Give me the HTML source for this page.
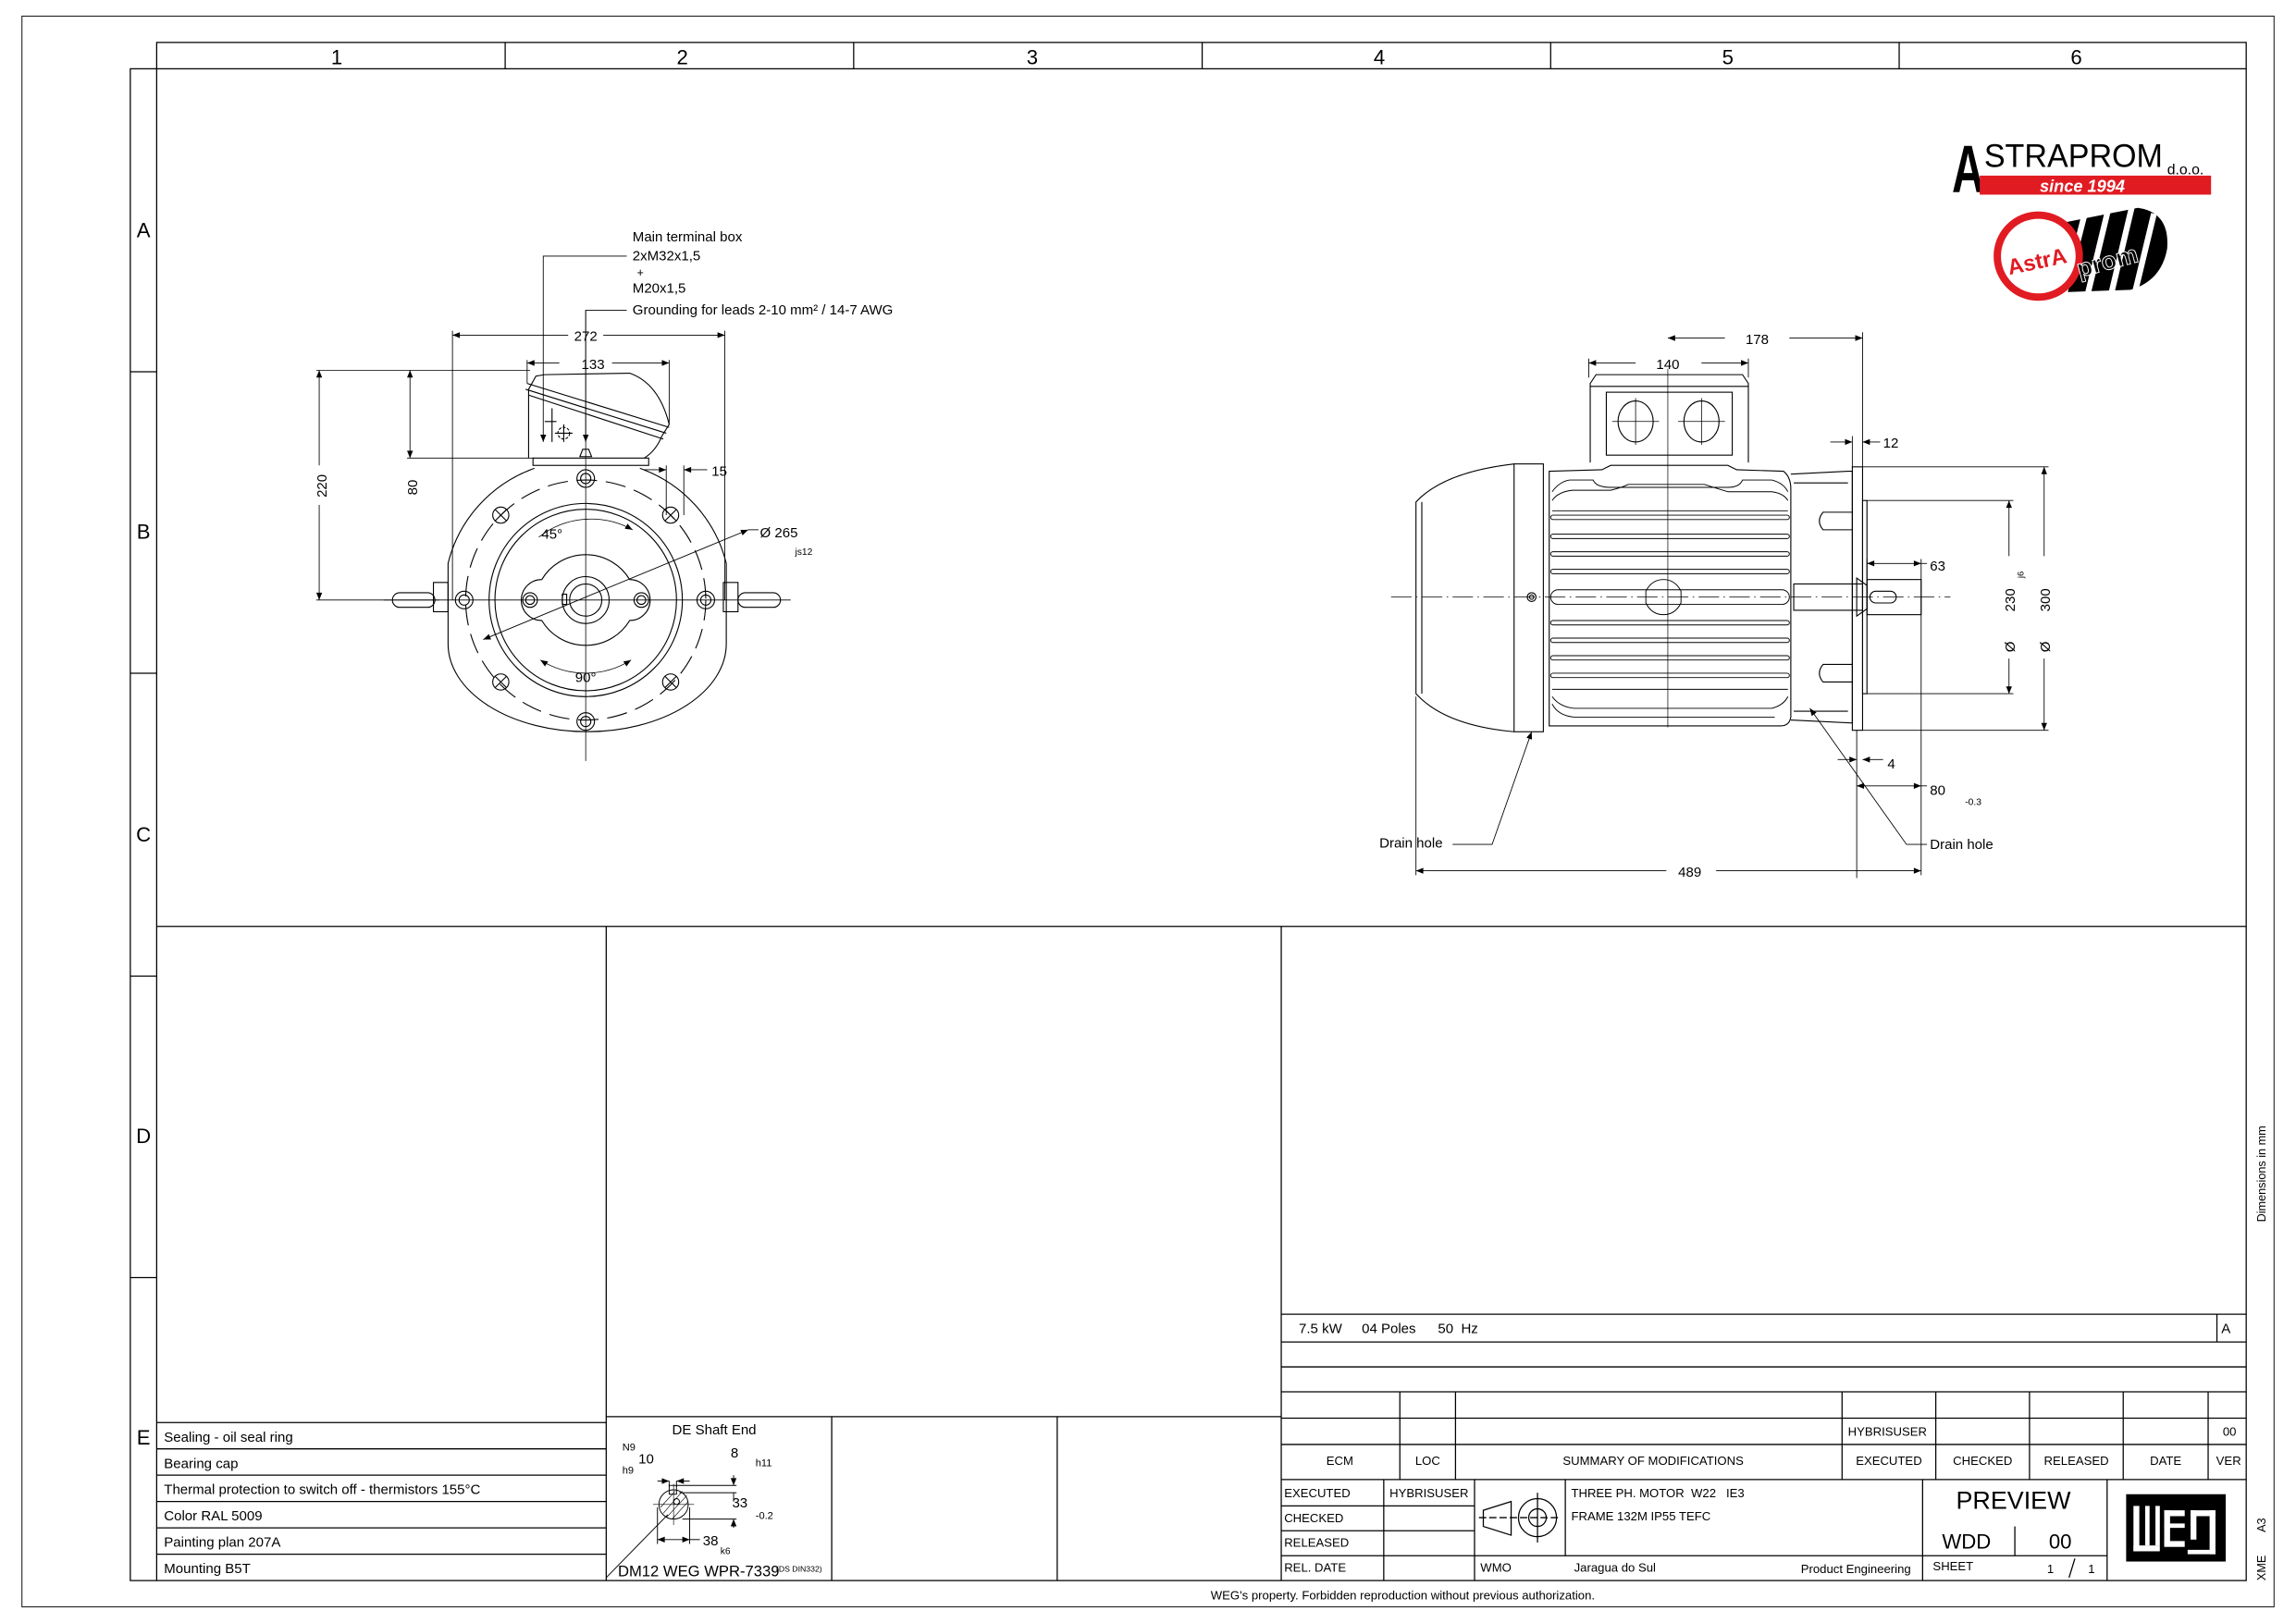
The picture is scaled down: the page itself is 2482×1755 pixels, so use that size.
<!DOCTYPE html>
<html><head><meta charset="utf-8"><style>
html,body{margin:0;padding:0;background:#fff;}
svg{display:block;}
text{font-family:"Liberation Sans",Arial,sans-serif;fill:#000;white-space:pre;}
</style></head><body>
<svg width="2482" height="1755" viewBox="0 0 1568 1109" preserveAspectRatio="none" xmlns="http://www.w3.org/2000/svg" xml:space="preserve">
<defs>
<marker id="a" viewBox="0 0 10 10" refX="10" refY="5" markerWidth="7" markerHeight="5" orient="auto-start-reverse" markerUnits="userSpaceOnUse"><path d="M0,1 L10,5 L0,9 z" fill="#000"/></marker>
</defs>
<rect width="1568" height="1109" fill="#fff"/>
<g fill="none" stroke="#000" stroke-width="0.8">
<rect x="15" y="11" width="1538" height="1087" stroke-width="0.6"/>
<rect x="107" y="29" width="1427" height="1051"/>
<line x1="107" y1="47" x2="1534" y2="47"/>
<line x1="345" y1="29" x2="345" y2="47"/><line x1="583" y1="29" x2="583" y2="47"/><line x1="821" y1="29" x2="821" y2="47"/><line x1="1059" y1="29" x2="1059" y2="47"/><line x1="1297" y1="29" x2="1297" y2="47"/>
<polyline points="107,47 89,47 89,1080 107,1080"/>
<line x1="89" y1="254" x2="107" y2="254"/><line x1="89" y1="460" x2="107" y2="460"/><line x1="89" y1="667" x2="107" y2="667"/><line x1="89" y1="873" x2="107" y2="873"/>
<line x1="107" y1="633" x2="1534" y2="633"/>
<line x1="414" y1="633" x2="414" y2="1080"/><line x1="875" y1="633" x2="875" y2="1080"/>
<line x1="107" y1="972" x2="414" y2="972"/><line x1="107" y1="990" x2="414" y2="990"/><line x1="107" y1="1008" x2="414" y2="1008"/><line x1="107" y1="1026" x2="414" y2="1026"/><line x1="107" y1="1044" x2="414" y2="1044"/><line x1="107" y1="1062" x2="414" y2="1062"/>
<line x1="414" y1="968" x2="875" y2="968"/><line x1="568" y1="968" x2="568" y2="1080"/><line x1="722" y1="968" x2="722" y2="1080"/>
<line x1="875" y1="898" x2="1534" y2="898"/><line x1="1514" y1="898" x2="1514" y2="917"/>
<line x1="875" y1="917" x2="1534" y2="917"/><line x1="875" y1="934" x2="1534" y2="934"/><line x1="875" y1="951" x2="1534" y2="951"/><line x1="875" y1="969" x2="1534" y2="969"/><line x1="875" y1="987" x2="1534" y2="987"/><line x1="875" y1="1011" x2="1534" y2="1011"/>
<line x1="956" y1="951" x2="956" y2="1011"/><line x1="994" y1="951" x2="994" y2="1011"/><line x1="1258" y1="951" x2="1258" y2="1011"/><line x1="1322" y1="951" x2="1322" y2="1011"/><line x1="1386" y1="951" x2="1386" y2="1011"/><line x1="1450" y1="951" x2="1450" y2="1011"/><line x1="1508" y1="951" x2="1508" y2="1011"/>
<line x1="945" y1="1011" x2="945" y2="1080"/><line x1="1007" y1="1011" x2="1007" y2="1080"/><line x1="1069" y1="1011" x2="1069" y2="1063"/><line x1="1313" y1="1011" x2="1313" y2="1080"/><line x1="1439" y1="1011" x2="1439" y2="1080"/><line x1="1376" y1="1043" x2="1376" y2="1063"/>
<line x1="875" y1="1029" x2="1007" y2="1029"/><line x1="875" y1="1046" x2="1007" y2="1046"/><line x1="875" y1="1063" x2="1439" y2="1063"/>
<path d="M1032,1026 L1013,1032 L1013,1043 L1032,1049 Z"/><circle cx="1050" cy="1037" r="13"/><circle cx="1050" cy="1037" r="6"/>
<line x1="1010" y1="1037" x2="1066" y2="1037" stroke-dasharray="5,2"/><line x1="1050" y1="1020" x2="1050" y2="1054"/>
</g>
<rect x="1452" y="1021" width="68" height="46" fill="#000"/>
<g fill="#fff">
<rect x="1457" y="1029" width="4" height="31"/><rect x="1465" y="1029" width="3" height="27"/><rect x="1472" y="1029" width="3" height="27"/><rect x="1457" y="1056" width="18" height="4"/>
<rect x="1478" y="1032" width="14" height="4"/><rect x="1478" y="1041" width="14" height="3"/><rect x="1478" y="1053" width="14" height="4"/><rect x="1478" y="1032" width="4" height="24"/>
<rect x="1496" y="1032" width="4" height="20"/><rect x="1496" y="1032" width="17" height="4"/><rect x="1509" y="1032" width="4" height="30"/><rect x="1494" y="1059" width="19" height="3"/>
</g>

<g font-size="14" text-anchor="middle" font-weight="300">
<text x="230" y="44">1</text><text x="466" y="44">2</text><text x="705" y="44">3</text><text x="942" y="44">4</text><text x="1180" y="44">5</text><text x="1418" y="44">6</text>
<text x="98" y="162">A</text><text x="98" y="368">B</text><text x="98" y="575">C</text><text x="98" y="781">D</text><text x="98" y="987">E</text>
</g>
<g font-size="9.5">
<text x="112" y="985">Sealing - oil seal ring</text><text x="112" y="1003">Bearing cap</text><text x="112" y="1021">Thermal protection to switch off - thermistors 155°C</text><text x="112" y="1039">Color RAL 5009</text><text x="112" y="1057">Painting plan 207A</text><text x="112" y="1075">Mounting B5T</text>
<text x="459" y="980">DE Shaft End</text>
<text x="422" y="1077" font-size="10.5">DM12 WEG WPR-7339</text><text x="530" y="1074" font-size="5.5">(DS DIN332)</text>
<text x="887" y="911">7.5 kW</text><text x="930" y="911">04 Poles</text><text x="982" y="911">50  Hz</text><text x="1517" y="911">A</text>
</g>
<g font-size="8.3">
<text x="1262" y="981">HYBRISUSER</text><text x="1518" y="981">00</text>
<g text-anchor="middle"><text x="915" y="1001">ECM</text><text x="975" y="1001">LOC</text><text x="1129" y="1001">SUMMARY OF MODIFICATIONS</text><text x="1290" y="1001">EXECUTED</text><text x="1354" y="1001">CHECKED</text><text x="1418" y="1001">RELEASED</text><text x="1479" y="1001">DATE</text><text x="1522" y="1001">VER</text></g>
<text x="877" y="1023">EXECUTED</text><text x="949" y="1023">HYBRISUSER</text><text x="877" y="1040">CHECKED</text><text x="877" y="1057">RELEASED</text><text x="877" y="1074">REL. DATE</text>
<text x="1073" y="1023">THREE PH. MOTOR  W22   IE3</text><text x="1073" y="1039">FRAME 132M IP55 TEFC</text>
<text x="1011" y="1074">WMO</text><text x="1075" y="1074">Jaragua do Sul</text><text x="1305" y="1075" text-anchor="end">Product Engineering</text>
<text x="1320" y="1073">SHEET</text><text x="1398" y="1075">1</text><text x="1426" y="1075">1</text>
<text x="958" y="1093" text-anchor="middle">WEG's property. Forbidden reproduction without previous authorization.</text>
</g>
<line x1="1413" y1="1078" x2="1417" y2="1065" stroke="#000" stroke-width="0.8"/>
<text x="1375" y="1031" font-size="17" text-anchor="middle">PREVIEW</text>
<text x="1343" y="1058" font-size="14" text-anchor="middle">WDD</text><text x="1407" y="1058" font-size="14" text-anchor="middle">00</text>
<g font-size="8">
<text transform="translate(1547,835) rotate(-90)">Dimensions in mm</text>
<text transform="translate(1547,1047) rotate(-90)">A3</text>
<text transform="translate(1547,1080) rotate(-90)">XME</text>
</g>

<!-- Logo -->
<text x="1333" y="131" font-size="46" font-weight="bold" textLength="22" lengthAdjust="spacingAndGlyphs">A</text>
<text x="1355" y="114" font-size="22" textLength="122" lengthAdjust="spacingAndGlyphs">STRAPROM</text>
<text x="1480" y="119" font-size="10">d.o.o.</text>
<rect x="1352" y="120" width="158" height="13" fill="#e11b22"/>
<text x="1393" y="131" font-size="11.5" font-style="italic" font-weight="bold" style="fill:#fff">since 1994</text>
<g>
<path d="M1395,155 L1460,142 Q1482,145 1480,170 Q1476,192 1455,198 L1400,200 Z" fill="#000"/>
<g stroke="#fff" stroke-width="4"><line x1="1424" y1="145" x2="1410" y2="200"/><line x1="1440" y1="142" x2="1426" y2="200"/><line x1="1456" y1="141" x2="1442" y2="200"/><line x1="1471" y1="146" x2="1458" y2="200"/></g>
<circle cx="1392" cy="175" r="28" fill="#fff" stroke="#e11b22" stroke-width="5"/>
<text x="1371" y="184" font-size="15" font-weight="bold" style="fill:#e11b22" transform="rotate(-12 1390 180)">AstrA</text>
<text x="1417" y="184" font-size="17" font-weight="bold" style="fill:#000" stroke="#fff" stroke-width="0.6" transform="rotate(-15 1440 175)">prom</text>
</g>

<!-- FRONT VIEW -->
<g fill="none" stroke="#000" stroke-width="0.7">
<path d="M365,320 A93,92 0 0,0 306,385 L306,440 A95,60 0 0,0 496,440 L496,385 A93,92 0 0,0 437,320"/>
<circle cx="400" cy="410" r="82" stroke-dasharray="14,6"/>
<circle cx="400" cy="410" r="66"/><circle cx="400" cy="410" r="62"/>
<path d="M370,396 A35,35 0 0,1 430,396 A10,10 0 0,1 430,424 A35,35 0 0,1 370,424 A10,10 0 0,1 370,396 Z"/>
<circle cx="400" cy="410" r="16"/><circle cx="400" cy="410" r="11"/>
<rect x="384" y="406" width="3" height="7"/>
<g>
<circle cx="400" cy="327" r="6"/><circle cx="400" cy="327" r="3.5"/>
<circle cx="400" cy="493" r="6"/><circle cx="400" cy="493" r="3.5"/>
<circle cx="317" cy="410" r="6"/><circle cx="317" cy="410" r="3.5"/>
<circle cx="482" cy="410" r="6"/><circle cx="482" cy="410" r="3.5"/>
<circle cx="362" cy="410" r="5"/><circle cx="362" cy="410" r="3"/>
<circle cx="438" cy="410" r="5"/><circle cx="438" cy="410" r="3"/>
</g>
<g>
<circle cx="342" cy="352" r="5.5"/><path d="M338,348 L346,356 M346,348 L338,356"/>
<circle cx="458" cy="352" r="5.5"/><path d="M454,348 L462,356 M462,348 L454,356"/>
<circle cx="342" cy="466" r="5.5"/><path d="M338,462 L346,470 M346,462 L338,470"/>
<circle cx="458" cy="466" r="5.5"/><path d="M454,462 L462,470 M462,462 L454,470"/>
</g>
<rect x="296" y="398" width="10" height="20"/><rect x="268" y="405" width="29" height="10" rx="5"/>
<rect x="494" y="398" width="10" height="20"/><rect x="504" y="405" width="29" height="10" rx="5"/>
<rect x="364" y="313" width="79" height="5"/>
<path d="M361,313 L361,266 L366,257 L372,256 L430,255 Q450,262 457,290 L452,298 Q448,308 440,313"/>
<path d="M360,262 L457,292 M359,266 L455,296 M361,270 L453,300"/>
<path d="M377,279 L377,302 M372,288 L380,288"/>
<circle cx="385" cy="296" r="4" stroke-dasharray="2,1"/><path d="M379,296 L391,296 M385,290 L385,302"/>
<path d="M396,312 L404,312 L402,307 L398,307 Z"/>
<line x1="262" y1="410" x2="540" y2="410" stroke-width="0.5"/>
<line x1="400" y1="212" x2="400" y2="520" stroke-width="0.5"/>
<path d="M368,367 A58,58 0 0,1 432,362" marker-end="url(#a)" stroke-width="0.5"/>
<path d="M369,451 A58,58 0 0,0 431,451" marker-start="url(#a)" marker-end="url(#a)" stroke-width="0.5"/>
</g>
<g fill="none" stroke="#000" stroke-width="0.55">
<line x1="309" y1="229" x2="388" y2="229" marker-start="url(#a)"/><line x1="412" y1="229" x2="495" y2="229" marker-end="url(#a)"/>
<line x1="309" y1="226" x2="309" y2="410"/><line x1="495" y1="226" x2="495" y2="410"/>
<line x1="360" y1="248" x2="382" y2="248" marker-start="url(#a)"/><line x1="418" y1="248" x2="457" y2="248" marker-end="url(#a)"/>
<line x1="360" y1="246" x2="360" y2="262"/><line x1="457" y1="246" x2="457" y2="290"/>
<line x1="216" y1="253" x2="362" y2="253"/><line x1="216" y1="410" x2="300" y2="410"/>
<line x1="218" y1="253" x2="218" y2="318" marker-start="url(#a)"/><line x1="218" y1="345" x2="218" y2="410" marker-end="url(#a)"/>
<line x1="280" y1="253" x2="280" y2="313" marker-start="url(#a)" marker-end="url(#a)"/>
<line x1="278" y1="313" x2="365" y2="313"/>
<line x1="440" y1="321" x2="455" y2="321" marker-end="url(#a)"/><line x1="483" y1="321" x2="467" y2="321" marker-end="url(#a)"/>
<line x1="455" y1="318" x2="455" y2="352"/><line x1="467" y1="318" x2="467" y2="352"/>
<line x1="330" y1="437" x2="511" y2="362" marker-start="url(#a)" marker-end="url(#a)"/><line x1="511" y1="362" x2="518" y2="362"/>
<polyline points="428,175 371,175 371,302" marker-end="url(#a)"/>
<polyline points="428,212 400,212 400,302" marker-end="url(#a)"/>
</g>
<g font-size="9.5">
<text x="432" y="165">Main terminal box</text><text x="432" y="178">2xM32x1,5</text><text x="435" y="189" font-size="8">+</text><text x="432" y="200">M20x1,5</text><text x="432" y="215">Grounding for leads 2-10 mm² / 14-7 AWG</text>
<text x="400" y="233" text-anchor="middle">272</text><text x="405" y="252" text-anchor="middle">133</text>
<text transform="translate(223,332) rotate(-90)" text-anchor="middle">220</text>
<text transform="translate(285,333) rotate(-90)" text-anchor="middle">80</text>
<text x="486" y="325">15</text>
<text x="519" y="367">Ø 265</text><text x="543" y="379" font-size="6.5">js12</text>
<text x="377" y="368" text-anchor="middle">45°</text><text x="400" y="466" text-anchor="middle">90°</text>
</g>

<!-- SIDE VIEW -->
<g fill="none" stroke="#000" stroke-width="0.7">
<path d="M1034,317 Q990,322 970,340 L967,343 L967,474 L970,477 Q990,496 1034,500"/>
<line x1="971" y1="343" x2="971" y2="474"/>
<rect x="1034" y="317" width="20" height="183"/>
<path d="M1058,322 L1094,321 L1100,318 L1180,318 L1186,321 L1218,322 Q1223,326 1223,334 L1223,490 Q1222,496 1216,496 L1058,496 Z"/>
<g stroke-width="0.6">
<path d="M1060,336 Q1065,329 1072,328 L1088,328 Q1090,333 1100,333 L1180,333 Q1188,333 1190,328 L1210,328 Q1218,330 1221,336"/>
<path d="M1060,342 Q1064,336 1074,335 L1100,335 Q1108,333 1112,331 L1164,331 Q1170,333 1180,336 L1210,336 Q1218,337 1221,342"/>
<path d="M1060,349 L1221,349"/>
<rect x="1059" y="352" width="163" height="3" rx="1.5"/><rect x="1059" y="365" width="163" height="3" rx="1.5"/><rect x="1059" y="377" width="163" height="3" rx="1.5"/><rect x="1059" y="389" width="163" height="3" rx="1.5"/>
<rect x="1059" y="424" width="163" height="3" rx="1.5"/><rect x="1059" y="436" width="163" height="3" rx="1.5"/><rect x="1059" y="448" width="163" height="3" rx="1.5"/><rect x="1059" y="460" width="163" height="3" rx="1.5"/>
<path d="M1060,471 L1221,471 M1060,476 Q1065,483 1075,484 L1210,484 Q1218,482 1221,476 M1060,481 Q1064,489 1075,490 L1212,490"/>
<rect x="1059" y="403" width="163" height="10" rx="5"/>
<path d="M1124,404 Q1128,396 1136,396 Q1144,396 1148,404 L1148,412 Q1144,420 1136,420 Q1128,420 1124,412 Z"/>
</g>
<circle cx="1046" cy="408" r="3"/><circle cx="1046" cy="408" r="1.5"/>
<path d="M1086,316 L1086,262 L1090,256 L1190,256 L1194,262 L1194,316"/>
<rect x="1097" y="268" width="86" height="43"/>
<line x1="1086" y1="264" x2="1194" y2="264"/>
<ellipse cx="1117" cy="288" rx="12" ry="14"/><ellipse cx="1162" cy="288" rx="12" ry="14"/>
<line x1="1101" y1="288" x2="1133" y2="288" stroke-width="0.5"/><line x1="1146" y1="288" x2="1178" y2="288" stroke-width="0.5"/>
<line x1="1117" y1="272" x2="1117" y2="304" stroke-width="0.5"/><line x1="1162" y1="272" x2="1162" y2="304" stroke-width="0.5"/>
<path d="M1223,324 L1262,322 L1265,322 L1265,494 L1223,492"/>
<line x1="1225" y1="330" x2="1262" y2="330"/><line x1="1225" y1="486" x2="1262" y2="486"/>
<rect x="1265" y="319" width="7" height="180"/>
<rect x="1272" y="342" width="3" height="132"/>
<path d="M1265,350 L1245,350 Q1240,356 1245,362 L1265,362"/><path d="M1265,454 L1245,454 Q1240,460 1245,466 L1265,466"/>
<rect x="1225" y="399" width="47" height="18"/>
<path d="M1268,395 L1275,400 L1275,416 L1268,421 Z"/>
<rect x="1275" y="396" width="37" height="24"/>
<rect x="1277" y="404" width="18" height="8" rx="4"/>
<line x1="950" y1="408" x2="1332" y2="408" stroke-width="0.45" stroke-dasharray="14,3,1,3"/>
<line x1="1139" y1="252" x2="1139" y2="497" stroke-width="0.45"/>
</g>
<g fill="none" stroke="#000" stroke-width="0.55">
<line x1="1139" y1="231" x2="1178" y2="231" marker-start="url(#a)"/><line x1="1222" y1="231" x2="1272" y2="231" marker-end="url(#a)"/>
<line x1="1272" y1="227" x2="1272" y2="320"/>
<line x1="1085" y1="248" x2="1117" y2="248" marker-start="url(#a)"/><line x1="1162" y1="248" x2="1194" y2="248" marker-end="url(#a)"/>
<line x1="1085" y1="245" x2="1085" y2="258"/><line x1="1194" y1="245" x2="1194" y2="258"/>
<line x1="1250" y1="302" x2="1265" y2="302" marker-end="url(#a)"/><line x1="1284" y1="302" x2="1272" y2="302" marker-end="url(#a)"/>
<line x1="1265" y1="298" x2="1265" y2="320"/>
<line x1="1272" y1="319" x2="1399" y2="319"/><line x1="1272" y1="499" x2="1399" y2="499"/>
<line x1="1396" y1="319" x2="1396" y2="380" marker-start="url(#a)"/><line x1="1396" y1="450" x2="1396" y2="499" marker-end="url(#a)"/>
<line x1="1275" y1="342" x2="1375" y2="342"/><line x1="1275" y1="474" x2="1375" y2="474"/>
<line x1="1372" y1="342" x2="1372" y2="380" marker-start="url(#a)"/><line x1="1372" y1="450" x2="1372" y2="474" marker-end="url(#a)"/>
<line x1="1275" y1="385" x2="1312" y2="385" marker-start="url(#a)" marker-end="url(#a)"/><line x1="1312" y1="385" x2="1316" y2="385"/>
<line x1="1275" y1="382" x2="1275" y2="396"/>
<line x1="1312" y1="382" x2="1312" y2="598"/>
<line x1="1255" y1="519" x2="1268" y2="519" marker-end="url(#a)"/><line x1="1286" y1="519" x2="1272" y2="519" marker-end="url(#a)"/>
<line x1="1268" y1="499" x2="1268" y2="600"/>
<line x1="1268" y1="537" x2="1312" y2="537" marker-start="url(#a)" marker-end="url(#a)"/><line x1="1312" y1="537" x2="1316" y2="537"/>
<line x1="967" y1="476" x2="967" y2="598"/>
<line x1="967" y1="595" x2="1138" y2="595" marker-start="url(#a)"/><line x1="1172" y1="595" x2="1312" y2="595" marker-end="url(#a)"/>
<polyline points="992,577 1019,577 1046,500" marker-end="url(#a)"/>
<polyline points="1316,577 1302,577 1236,484" marker-end="url(#a)"/>
</g>
<g font-size="9.5">
<text x="1200" y="235" text-anchor="middle">178</text><text x="1139" y="252" text-anchor="middle">140</text>
<text x="1286" y="306">12</text><text x="1318" y="390">63</text><text x="1289" y="525">4</text><text x="1318" y="543">80</text><text x="1342" y="550" font-size="6.5">-0.3</text>
<text x="1154" y="599" text-anchor="middle">489</text>
<text x="942" y="579">Drain hole</text><text x="1318" y="580">Drain hole</text>
<text transform="translate(1376,410) rotate(-90)" text-anchor="middle">230</text>
<text transform="translate(1382,395) rotate(-90)" font-size="6">j6</text>
<text transform="translate(1376,442) rotate(-90)" text-anchor="middle">Ø</text>
<text transform="translate(1400,410) rotate(-90)" text-anchor="middle">300</text>
<text transform="translate(1400,442) rotate(-90)" text-anchor="middle">Ø</text>
</g>

<!-- DE shaft end -->
<g fill="none" stroke="#000" stroke-width="0.6">
<circle cx="460" cy="1028" r="10"/>
<rect x="457" y="1015" width="5" height="6"/>
<circle cx="462" cy="1026" r="2"/>
<path d="M453,1034 L466,1019 M455,1037 L469,1022 M451,1030 L461,1019 M459,1038 L470,1026" stroke-width="0.4"/>
<line x1="446" y1="1028" x2="474" y2="1028" stroke-width="0.4"/><line x1="460" y1="1014" x2="460" y2="1042" stroke-width="0.4"/>
<line x1="414" y1="1078" x2="456" y2="1035"/>
<line x1="457" y1="1012" x2="457" y2="1016"/><line x1="462" y1="1012" x2="462" y2="1016"/>
<line x1="449" y1="1012" x2="457" y2="1012" marker-end="url(#a)"/><line x1="471" y1="1012" x2="462" y2="1012" marker-end="url(#a)"/>
<line x1="462" y1="1015" x2="503" y2="1015"/><line x1="464" y1="1020" x2="503" y2="1020"/><line x1="466" y1="1038" x2="503" y2="1038"/>
<line x1="501" y1="1008" x2="501" y2="1015" marker-end="url(#a)"/><line x1="501" y1="1020" x2="501" y2="1026"/><line x1="501" y1="1044" x2="501" y2="1038" marker-end="url(#a)"/>
<line x1="449" y1="1030" x2="449" y2="1055"/><line x1="471" y1="1030" x2="471" y2="1055"/>
<line x1="449" y1="1052" x2="471" y2="1052" marker-start="url(#a)" marker-end="url(#a)"/><line x1="471" y1="1052" x2="478" y2="1052"/>
</g>
<g font-size="9.5">
<text x="425" y="991" font-size="7">N9</text><text x="425" y="1007" font-size="7">h9</text><text x="436" y="1000">10</text>
<text x="499" y="996">8</text><text x="516" y="1002" font-size="7">h11</text>
<text x="500" y="1030">33</text><text x="516" y="1038" font-size="7">-0.2</text>
<text x="480" y="1056">38</text><text x="492" y="1062" font-size="6.5">k6</text>
</g>
</svg>
</body></html>
